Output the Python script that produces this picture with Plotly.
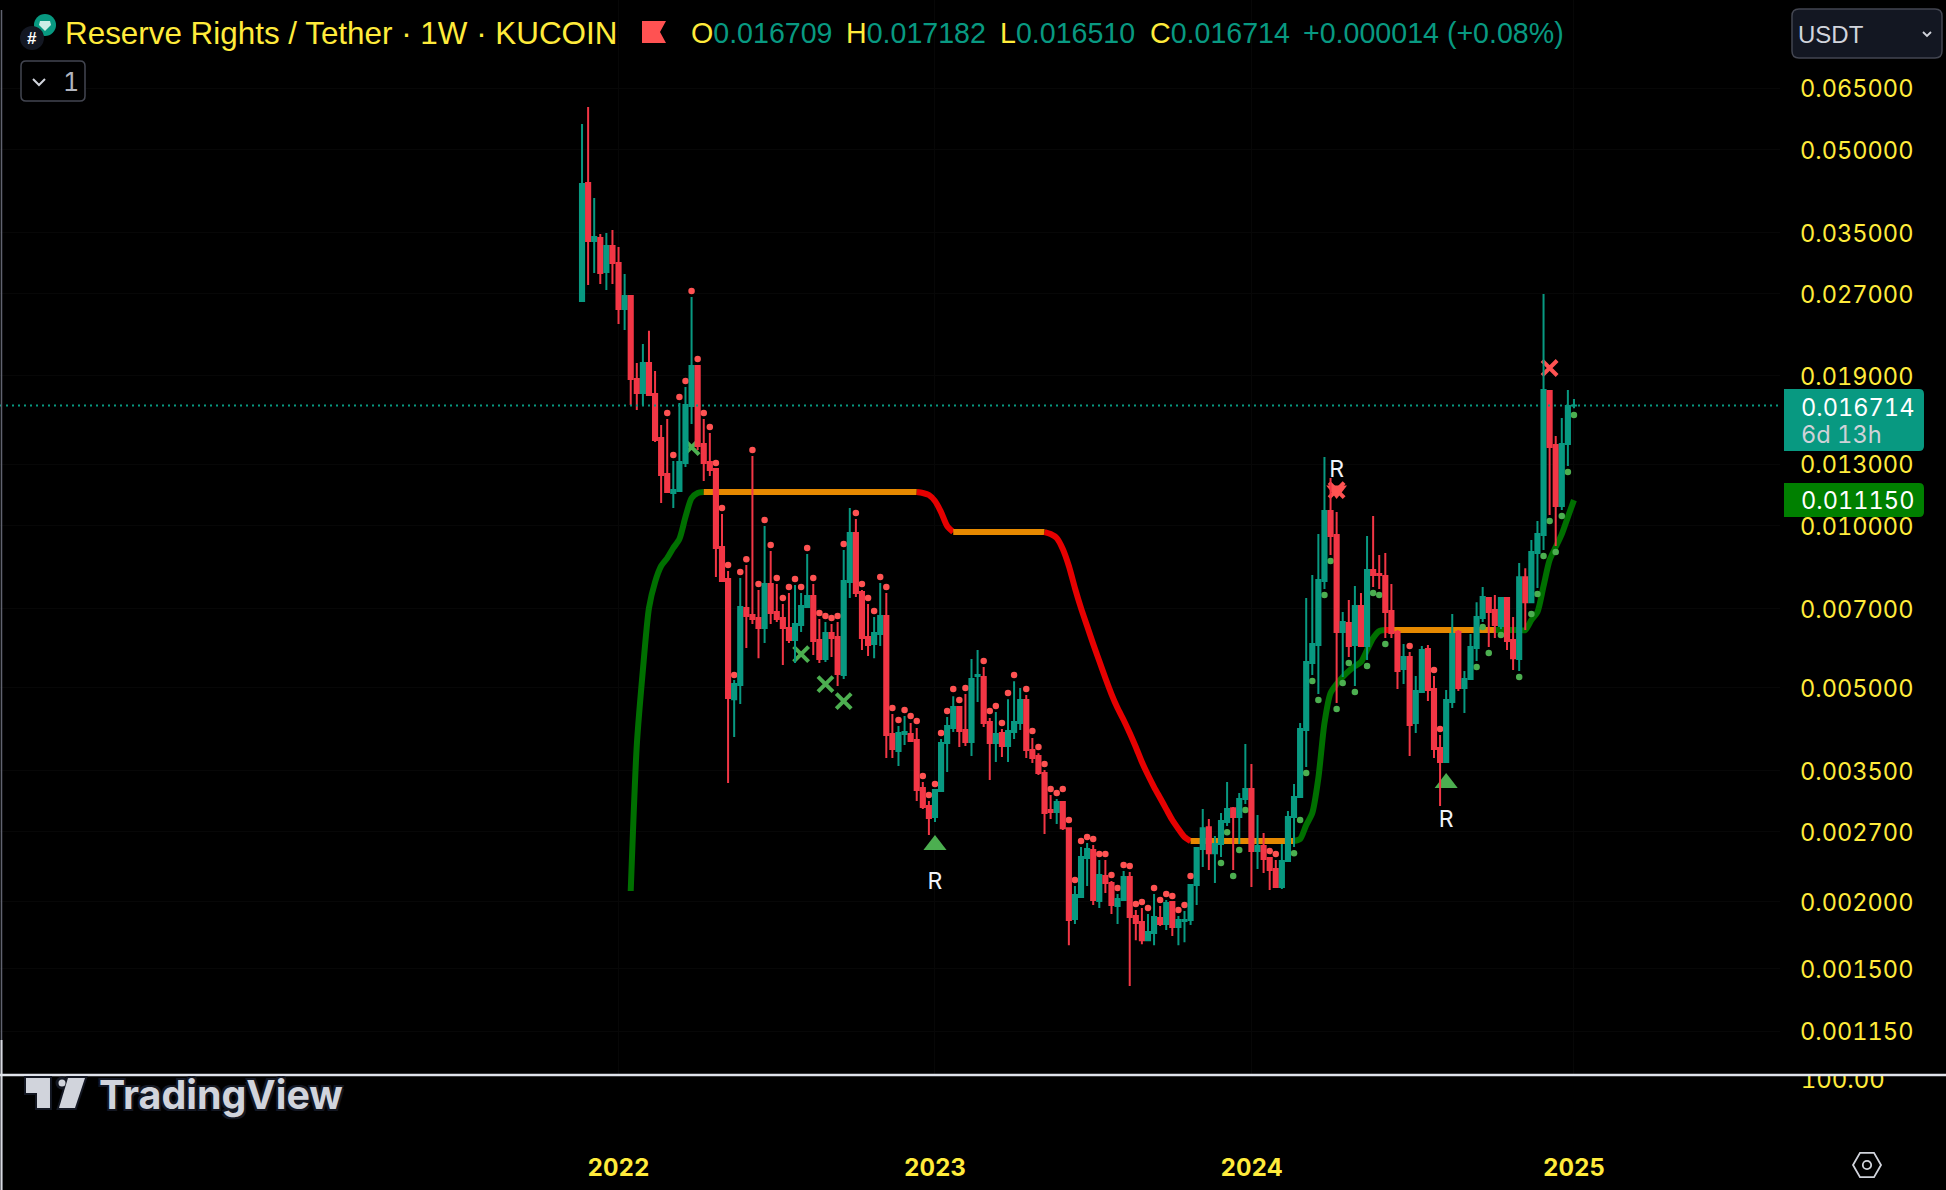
import numpy as np
import pandas as pd
import plotly.graph_objects as go

W, H = 1946, 1190
# Prices in millionths of USDT, one row per weekly bar: open, high, low, close
ohlc = [
(26137,55739,26137,43117),(43304,59950,27983,33789),(33789,40614,29460,34370),(34224,34811,28105,29460),
(29590,34963,27397,33069),(33069,35417,28105,30750),(30750,32930,23684,25258),(25258,29330,23087,26699),
(26699,26811,16745,18720),(18720,20045,16395,17630),(17630,21742,16745,20045),(20045,23000,17400,17477),
(17553,19372,14296,14420),(14543,15372,11011,12411),(12465,15775,11493,11542),(11493,13180,10779,11642),
(11592,16891,11592,13124),(13067,18087,12845,16745),(16672,26587,15439,19788),(19788,19871,13816,14052),
(14173,15775,12099,13067),(13124,14857,12359,12683),(12737,12792,8025,9085),(9123,10505,7853,7888),
(7958,8233,3324,4782),(4757,5164,4046,5076),(5054,7987,4660,7056),(7026,8445,5921,6789),
(6818,13464,6561,6704),(6733,7590,5671,6451),(6451,9979,6050,7786),(7786,8968,6561,6878),
(6908,7786,6618,6704),(6733,7147,5505,6451),(6451,7492,6050,6128),(6128,7752,5553,6561),
(6533,7492,6341,7086),(7056,8852,7056,7396),(7396,7786,5746,6102),(6128,6704,5553,5650),
(5650,6618,5577,6314),(6314,6561,5698,6181),(6207,6618,5033,5298),(5275,9007,5186,7888),
(7853,10779,7334,9685),(9685,10284,7365,7492),(7524,7590,5872,6181),(6207,7147,5722,5997),
(6023,6761,5671,6314),(6286,7820,5971,6789),(6789,7492,3699,4080),(4098,4464,3699,3844),
(3812,4241,3574,4116),(4098,4426,3909,4133),(4098,4295,3960,3977),(3994,4205,3077,3226),
(3254,3338,2974,2999),(3012,3077,2660,2861),(2873,3226,2813,3226),(3212,4012,3212,3943),
(3943,4408,3484,4241),(4205,4820,4134,4600),(4600,4620,3877,4152),(4170,4863,3893,3960),
(3960,5650,3731,5186),(5252,5872,4700,5275),(5230,5459,4223,4295),(4313,4390,3367,3943),
(3943,4502,3636,4098),(4116,4187,3715,3893),(3893,4757,3636,4152),(4134,5139,4012,4313),
(4295,4990,4170,4740),(4740,4842,3699,3828),(3828,4030,3620,3699),(3731,3777,3439,3469),
(3469,3514,2672,2923),(2961,3157,2849,2936),(2936,3103,2788,3063),(3063,3077,2718,2740),
(2740,2752,1661,1850),(1857,2139,1818,2058),(2041,2527,2041,2421),(2411,2571,2139,2505),
(2495,2549,1972,2015),(2006,2391,1947,2242),(2233,2391,2076,2167),(2167,2186,1897,1972),
(1964,2067,1818,2023),(2015,2281,2015,2223),(2223,2271,1394,1873),(1881,1931,1697,1826),
(1834,1947,1668,1697),(1697,1897,1697,1757),(1749,2067,1661,1873),(1865,1964,1803,1818),
(1818,2015,1772,1989),(1997,1997,1727,1795),(1795,1881,1661,1850),(1842,1922,1682,1850),
(1850,2148,1810,2148),(2148,2516,1972,2516),(2505,2973,2320,2740),(2752,2849,2291,2462),
(2462,2649,2167,2560),(2560,2923,2421,2825),(2813,3338,2764,2973),(2985,2999,2291,2873),
(2873,3184,2560,3103),(3103,3926,3037,3240),(3240,3605,2130,2484),(2484,2898,2300,2538),
(2538,2683,2262,2402),(2411,2411,2103,2291),(2300,2391,2130,2130),(2130,2560,2112,2380),
(2380,2948,2380,2873),(2873,3309,2527,3130),(3130,4295,3130,4187),(4170,7334,3559,5577),
(5553,8091,5275,6023),(5997,9642,4863,7920),(7888,13406,7622,10640),(10640,12254,8814,9561),
(9601,10594,4680,6341),(6341,6908,5230,6618),(6590,7270,5698,5971),(5997,7720,5033,7086),
(7086,7492,5947,5971),(5971,9561,5625,8268),(8268,10415,7687,8091),(8126,8814,7622,8091),
(8056,8890,6181,6908),(6938,7786,6181,6314),(6341,6396,4970,5367),(5413,6023,5076,5698),
(5698,5821,3731,4259),(4295,5252,4116,4927),(4906,5971,4906,5872),(5896,5997,4720,4948),
(4970,5252,3699,3844),(3860,4080,3012,3636),(3636,4948,3636,4740),(4700,6848,4580,6286),
(6341,6396,4927,4990),(4990,5367,4483,5186),(5186,6286,5186,5947),(5921,7206,5601,6761),
(6733,7687,6618,7365),(7334,7365,5947,6908),(6967,7427,6181,6533),(6505,7365,6423,7334),
(7334,7365,5872,6102),(6128,6761,5390,5671),(5650,8519,5367,8020),(8020,8333,6396,7206),
(7206,9399,7206,8929),(8890,10196,7654,9643),(9601,26925,9007,17859),(17783,17859,10459,13990),
(14111,14665,9160,10870),(10870,15841,10688,14173),(14173,17859,12900,16672),(16709,17182,16510,16714),
]
# Dots above highs / below lows: bar number -> price (millionths)
red_dots = {14:16180,15:13520,16:17325,17:18560,18:27280,19:20390,20:16180,21:15240,22:13067,23:10779,24:8445,25:5275,
26:8195,27:8660,28:13816,29:7786,30:10240,31:9199,32:7987,33:7334,34:7687,35:7958,36:7687,37:9085,38:7987,39:6878,
40:6789,41:6733,42:6789,43:9240,45:10550,46:7786,47:7334,48:6938,49:8025,50:7687,51:4580,52:4352,53:4542,54:4426,
55:4333,56:3424,57:3157,58:3309,59:4116,60:4522,61:4970,62:4740,63:4990,66:5601,67:4522,68:4620,69:4295,70:4884,
71:5275,73:4970,74:4152,75:3877,76:3604,77:3240,78:3184,79:3240,80:2837,81:2195,82:2593,83:2638,84:2615,85:2453,
86:2453,87:2242,88:2121,89:2340,90:2330,91:1981,92:1997,93:1947,94:2121,95:2015,96:2067,97:2050,98:1931,99:1972,
100:2233,113:2484,114:2453,136:5971,140:5390,141:4187}
green_dots = {105:2360,106:2693,107:2233,108:2495,109:2961,117:2462,118:2837,119:3469,120:5142,121:4740,122:7427,
123:8590,124:4560,125:5098,126:5553,127:4905,129:5481,130:7492,131:7427,132:6023,147:5459,148:6477,149:5796,151:6259,
154:5230,156:6848,157:7459,158:8776,159:10194,160:8929,161:10415,162:12570,163:16044}
# Trend line: bar number of the first value is 8
trend_start = 8
trend = [2094,3909,5390,7026,7853,8410,8700,9085,9440,10375,11245,11493] + [11542]*36 + [
11493,11393,11105,10594,9979] + [9725]*16 + [9642,9480,9044,8410,7654,7026,6505,6023,5601,5208,4863,4580,4352,4116,
3877,3636,3439,3267,3117,2973,2837,2731,2638] + [2593]*18 + [2615,2776,2923,3396,4295,4884,5076,5230,5367,5481,5577,
5872,6181,6368] + [6396]*24 + [6675,6908,7720,8629,9120,9642,10375,11150]
# Colour spans of the trend line: (first bar, last bar, colour)
trend_spans = [(8,20,"#007000"),(20,55,"#e68900"),(55,61,"#e60000"),(61,76,"#e68900"),(76,100,"#e60000"),
(100,117,"#e68900"),(117,132,"#007000"),(132,133,"#e60000"),(133,150,"#e68900"),(150,163,"#007000")]
# Signal markers: (bar, price in millionths)
green_x = [(18,13990),(36,5771),(40,5076),(43,4720)]
red_x = [(124,11638),(159,19620)]
red_tri = [(124,11638)]
green_tri = [(58,2550),(142,3325)]
r_labels = [(58,2162),(124,12600),(142,2818)]
last_price = 0.016714
y_ticks = [0.065,0.05,0.035,0.027,0.019,0.013,0.010,0.007,0.005,0.0035,0.0027,0.002,0.0015,0.00115]
year_bars = {"2022":6,"2023":58,"2024":110,"2025":163}

UP, DOWN = "#089981", "#f23645"
YEL = "#ffeb3b"
LOGO = "#d1d4dc"
FONT = "Inter, sans-serif"
LEG = "Liberation Sans, Arial, sans-serif"

dates = pd.date_range("2021-11-15", periods=len(ohlc), freq="7D")
o, h, l, c = [np.array(col) / 1e6 for col in zip(*ohlc)]
xr = ["2020-01-15 12:00", "2025-08-24"]
yr = [-3.0209, -1.0235]
d = lambda idx: [dates[i] for i in idx]

fig = go.Figure()
# trend line (base layer, under the candles)
tr = np.array(trend) / 1e6
for a, b, col in trend_spans:
    idx = list(range(a, b + 1))
    fig.add_trace(go.Scatter(x=d(idx), y=tr[a - trend_start: b + 1 - trend_start], mode="lines",
                             line=dict(color=col, width=6, shape="spline", smoothing=0.7), hoverinfo="skip"))
for dots, col in ((red_dots, "#ff5252"), (green_dots, "#4caf50")):
    fig.add_trace(go.Scatter(x=d(dots.keys()), y=[v / 1e6 for v in dots.values()], mode="markers",
                             marker=dict(color=col, size=6.5), hoverinfo="skip"))
def marks(pts, col, sym, size, lw=0):
    fig.add_trace(go.Scatter(x=d([p[0] for p in pts]), y=[p[1] / 1e6 for p in pts], mode="markers",
                             marker=dict(symbol=sym, color=col, size=size, line=dict(color=col, width=lw)),
                             hoverinfo="skip"))
marks(green_x, "#4caf50", "x-thin", 15, 4)
marks(red_x, "#ff5252", "x-thin", 15, 4)
marks(red_tri, "#ff5252", "triangle-down", 18)
marks(green_tri, "#4caf50", "triangle-up", 20)
fig.add_trace(go.Scatter(x=d([p[0] for p in r_labels]), y=[p[1] / 1e6 for p in r_labels], mode="text",
                         text=["R"] * len(r_labels), textposition="middle center",
                         textfont=dict(color="#f0f3fa", size=23, family=FONT), hoverinfo="skip", cliponaxis=False))
# candles on the overlay axes so they sit on top
fig.add_trace(go.Candlestick(x=dates, open=o, high=h, low=l, close=c, xaxis="x2", yaxis="y2",
                             increasing=dict(line=dict(color=UP, width=2), fillcolor=UP),
                             decreasing=dict(line=dict(color=DOWN, width=2), fillcolor=DOWN),
                             whiskerwidth=0, hoverinfo="skip"))
fig.add_trace(go.Scatter(x=xr, y=[last_price, last_price], xaxis="x2", yaxis="y2", mode="lines",
                         line=dict(color=UP, width=2, dash="2px,4px"), hoverinfo="skip"))
# clipped text of the hidden pane's scale, below the divider
fig.add_trace(go.Scatter(x=[0.48], y=[0.945], xaxis="x3", yaxis="y3", mode="text", text=["100.00"],
                         textfont=dict(color=YEL, size=24, family=FONT), cliponaxis=True, hoverinfo="skip"))

px, py = (lambda v: v / W), (lambda v: 1 - v / H)
R_EDGE = 1780
BOT = 1075
shapes, anns = [], []
def path(points, fill=None, line=None, lw=1.5, close=True):
    s = "M " + " L ".join(f"{px(a):.5f},{py(b):.5f}" for a, b in points) + (" Z" if close else "")
    shapes.append(dict(type="path", xref="paper", yref="paper", path=s, fillcolor=fill or "rgba(0,0,0,0)",
                       line=dict(color=line or "rgba(0,0,0,0)", width=lw if line else 0), layer="above"))
def rrect(x0, y0, x1, y1, rl, rr, fill, line=None):
    s = (f"M {px(x0+rl):.5f},{py(y0):.5f} L {px(x1-rr):.5f},{py(y0):.5f} Q {px(x1):.5f},{py(y0):.5f} {px(x1):.5f},{py(y0+rr):.5f} "
         f"L {px(x1):.5f},{py(y1-rr):.5f} Q {px(x1):.5f},{py(y1):.5f} {px(x1-rr):.5f},{py(y1):.5f} "
         f"L {px(x0+rl):.5f},{py(y1):.5f} Q {px(x0):.5f},{py(y1):.5f} {px(x0):.5f},{py(y1-rl):.5f} "
         f"L {px(x0):.5f},{py(y0+rl):.5f} Q {px(x0):.5f},{py(y0):.5f} {px(x0+rl):.5f},{py(y0):.5f} Z")
    shapes.append(dict(type="path", xref="paper", yref="paper", path=s, fillcolor=fill,
                       line=dict(color=line or fill, width=1.5 if line else 0), layer="above"))
def circle(cx, cy, r, fill, line=None, lw=1.5):
    shapes.append(dict(type="circle", xref="paper", yref="paper", x0=px(cx - r), x1=px(cx + r), y0=py(cy + r), y1=py(cy - r),
                       fillcolor=fill, line=dict(color=line or fill, width=lw if line else 0), layer="above"))
def ann(x, y, text, size, color, anchor="left", family=LEG, **kw):
    anns.append(dict(x=px(x), y=py(y), xref="paper", yref="paper", text=text, showarrow=False, xanchor=anchor,
                     yanchor="middle", font=dict(size=size, color=color, family=family, **kw), align="left"))

# frame
path([(1.5, 10), (1.5, 1190)], line="#606370", lw=1.5, close=False)
path([(1.5, 1040), (1.5, 1190)], line="#d8dbe2", lw=2, close=False)
path([(0, BOT), (W, BOT)], line="#e0e3eb", lw=2.5, close=False)
# price tags
rrect(1784, 389, 1924, 451, 0, 5, UP)
ann(1799, 407, "0.016714", 23.6, "#ffffff", family=FONT)
ann(1799, 434, "6d 13h", 23.6, "#cfd2d8", family=FONT)
rrect(1784, 483, 1924, 517, 0, 5, "#008000")
ann(1799, 500, "0.011150", 23.6, "#ffffff", family=FONT)
# header
circle(45, 25, 11, UP)
path([(40, 21), (50, 21), (51, 25), (45, 31), (39, 25)], fill="#cdeee6")
circle(32, 38, 12, "#131722")
ann(32, 38, "<b>#</b>", 17, "#ffffff", anchor="center")
ann(63, 33, "Reserve Rights / Tether · 1W · KUCOIN", 31.4, YEL)
path([(642, 21), (666, 21), (660, 32), (666, 43), (642, 43)], fill="#ff5252")
L = lambda s: f'<span style="color:{YEL}">{s}</span>'
V = lambda s: f'<span style="color:{UP}">{s}</span>'
for lx, s in ((689, L("O") + V("0.016709")), (844, L("H") + V("0.017182")), (998, L("L") + V("0.016510")),
              (1148, L("C") + V("0.016714")), (1301, V("+0.000014 (+0.08%)"))):
    ann(lx, 33, s, 28.6, UP)
rrect(21, 61, 85, 101, 5, 5, "#000000", "#434651")
path([(33, 79), (39, 85), (45, 79)], line="#d1d4dc", lw=2, close=False)
ann(61, 82, "1", 25, "#b2b5be", family=FONT)
rrect(1792, 9, 1942, 58, 7, 7, "#131722", "#434651")
ann(1796, 34, "USDT", 24, "#d1d4dc")
path([(1923, 32), (1927, 36), (1931, 32)], line="#d1d4dc", lw=1.8, close=False)
# logo
for pts in ([(26, 1078), (50, 1078), (50, 1108), (37, 1108), (37, 1093), (26, 1093)],
            [(68, 1078), (85, 1078), (75, 1108), (59, 1108)]):
    path(pts, fill=LOGO, line="#131722", lw=4)
circle(62, 1083, 5, LOGO, "#131722", 3)
for pts in ([(26, 1078), (50, 1078), (50, 1108), (37, 1108), (37, 1093), (26, 1093)],
            [(68, 1078), (85, 1078), (75, 1108), (59, 1108)]):
    path(pts, fill=LOGO)
ann(97, 1095, "<b>TradingView</b>", 39.4, LOGO, family=FONT,
    shadow="2px 2px 0 #131722, -2px -2px 0 #131722, 2px -2px 0 #131722, -2px 2px 0 #131722")
# settings icon
hx, hy, hr = 1867, 1165, 14
path([(hx + hr * np.cos(a), hy + hr * np.sin(a)) for a in np.radians([0, 60, 120, 180, 240, 300])], line=LOGO, lw=1.8)
circle(hx, hy, 4.2, "rgba(0,0,0,0)", LOGO, 1.8)

def y_axis(**kw):
    return dict(type="log", range=yr, fixedrange=True, zeroline=False, **kw)
def x_axis(**kw):
    return dict(type="date", range=xr, fixedrange=True, zeroline=False, rangeslider=dict(visible=False), **kw)
tick_dates = [dates[i] for i in year_bars.values()]
fig.update_layout(
    width=W, height=H, autosize=False, showlegend=False, paper_bgcolor="#000000", plot_bgcolor="#000000",
    margin=dict(l=0, r=0, t=0, b=0, pad=0), boxgap=0.32, boxgroupgap=0,
    xaxis=x_axis(tickmode="array", tickvals=tick_dates, ticktext=[f"<b>{t}</b>" for t in year_bars], ticks="",
                 tickfont=dict(color=YEL, size=24, family=FONT), showgrid=True, gridcolor="#070707", gridwidth=1,
                 showline=False, ticklabelstandoff=76, domain=[0, R_EDGE / W]),
    yaxis=y_axis(side="right", tickmode="array", tickvals=y_ticks, ticktext=[f"{v:.6f}" for v in y_ticks], ticks="",
                 tickfont=dict(color=YEL, size=23.6, family=FONT), showgrid=True, gridcolor="#070707", gridwidth=1,
                 showline=False, ticklabelstandoff=19, ticklabelshift=1, domain=[1 - BOT / H, 1]),
    xaxis2=x_axis(overlaying="x", visible=False, matches=None),
    yaxis2=y_axis(overlaying="y", visible=False, side="right"),
    xaxis3=dict(domain=[1790 / W, 1900 / W], range=[0, 1], visible=False, fixedrange=True),
    yaxis3=dict(domain=[0, (H - BOT - 1) / H], range=[0, 1], visible=False, fixedrange=True, anchor="x3"),
    shapes=shapes, annotations=anns,
)
post = ("document.body.style.margin='0';document.body.style.overflow='hidden';"
        "document.documentElement.style.background='#000';"
        "var st=document.createElement('style');st.textContent='text{font-feature-settings:\"tnum\" 1;}';document.head.appendChild(st);")
fig.write_html("out.html", config=dict(displayModeBar=False, staticPlot=True), post_script=post)
